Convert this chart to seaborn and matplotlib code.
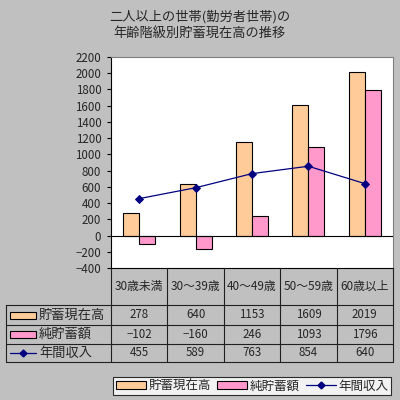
import matplotlib
matplotlib.use("Agg")
import matplotlib.pyplot as plt
import seaborn as sns
import pandas as pd
from matplotlib.patches import Rectangle, Patch
from matplotlib.lines import Line2D
from matplotlib.transforms import blended_transform_factory

# ----------------------- data -----------------------------------------------
categories = ["30歳未満", "30～39歳", "40～49歳", "50～59歳", "60歳以上"]
savings = [278, 640, 1153, 1609, 2019]        # 貯蓄現在高
net_savings = [-102, -160, 246, 1093, 1796]   # 純貯蓄額
income = [455, 589, 763, 854, 640]            # 年間収入
series_names = ["貯蓄現在高", "純貯蓄額", "年間収入"]
y_ticks = list(range(-400, 2201, 200))

ORANGE = "#FFCC99"
PINK = "#FF99CC"
NAVY = "#000080"
BG = "#C0C0C0"

sns.set_style("white")
plt.rcParams["font.family"] = ["Noto Sans CJK JP", "DejaVu Sans"]

W, H = 400, 400


def fx(px):
    return px / W


def fy(px):
    return 1 - px / H


fig = plt.figure(figsize=(4, 4), dpi=100, facecolor=BG)

# plot area in pixels: x 111..393, y 57..268
ax = fig.add_axes([fx(111), fy(268), fx(393) - fx(111), fy(57) - fy(268)])
ax.set_facecolor("white")

df = pd.DataFrame({
    "cat": categories * 2,
    "series": [series_names[0]] * 5 + [series_names[1]] * 5,
    "value": savings + net_savings,
})
sns.barplot(data=df, x="cat", y="value", hue="series", order=categories,
            palette=[ORANGE, PINK], saturation=1, width=0.57, edgecolor="black",
            linewidth=0.8, legend=False, ax=ax)
sns.pointplot(x=categories, y=income, order=categories, color=NAVY,
              markers="D", markersize=4, linewidth=0.9, ax=ax)

ax.axhline(0, color="black", lw=0.8, zorder=1)
ax.set_xlim(-0.5, len(categories) - 0.5)
ax.set_ylim(y_ticks[0], y_ticks[-1])
ax.set_yticks(y_ticks)
ax.set_yticklabels([str(t).replace("-", "\u2212") for t in y_ticks])
ax.set_xticks([])
ax.set_xlabel("")
ax.set_ylabel("")
ax.tick_params(axis="y", labelsize=8.3, length=3, width=0.8, color="black",
               pad=4, left=True)
for side in ["top", "right"]:
    ax.spines[side].set_color("#808080")
    ax.spines[side].set_linewidth(0.8)
ax.spines["left"].set_color("black")
ax.spines["left"].set_linewidth(0.8)
ax.spines["bottom"].set_color("black")
ax.spines["bottom"].set_linewidth(0.8)

# title
fig.text(0.5, fy(17), "二人以上の世帯(勤労者世帯)の", ha="center", va="center", fontsize=9.5)
fig.text(0.5, fy(34), "年齢階級別貯蓄現在高の推移", ha="center", va="center", fontsize=9.5)

# ----------------------- data table -----------------------------------------
trans = blended_transform_factory(ax.transData, fig.transFigure)
row_edges = [268, 305, 325, 344, 362]
left_px, col_left_px, right_px = 6, 111, 393
lc = "#202020"

n = len(categories)
col_w = (right_px - col_left_px) / n
for i in range(n + 1):
    x = col_left_px + i * col_w
    fig.add_artist(Line2D([fx(x), fx(x)], [fy(row_edges[0]), fy(row_edges[-1])],
                          color=lc, lw=0.8))
fig.add_artist(Line2D([fx(left_px), fx(left_px)], [fy(row_edges[1]), fy(row_edges[-1])],
                      color=lc, lw=0.8))
for y in row_edges[1:]:
    fig.add_artist(Line2D([fx(left_px), fx(right_px)], [fy(y), fy(y)], color=lc, lw=0.8))

for i, c in enumerate(categories):
    fig.text(i, fy((row_edges[0] + row_edges[1]) / 2), c, transform=trans,
             ha="center", va="center", fontsize=8.5)

rows = [savings, net_savings, income]
for r, (name, vals) in enumerate(zip(series_names, rows)):
    yc = fy((row_edges[r + 1] + row_edges[r + 2]) / 2)
    if r < 2:
        fig.add_artist(Rectangle((fx(10), yc - 3.5 / H), fx(26), 7 / H,
                                 facecolor=[ORANGE, PINK][r], edgecolor="black",
                                 lw=0.8, transform=fig.transFigure))
    else:
        fig.add_artist(Line2D([fx(10), fx(36)], [yc, yc], color=NAVY, lw=0.9,
                              transform=fig.transFigure))
        fig.add_artist(Line2D([fx(23)], [yc], color=NAVY, marker="D",
                              markersize=3.5, transform=fig.transFigure))
    fig.text(fx(39), yc, name, ha="left", va="center", fontsize=9.5)
    for i, v in enumerate(vals):
        fig.text(i, yc, str(v).replace("-", "\u2212"), transform=trans,
                 ha="center", va="center", fontsize=8.3)

# ----------------------- legend ---------------------------------------------
handles = [
    Patch(facecolor=ORANGE, edgecolor="black", lw=0.8),
    Patch(facecolor=PINK, edgecolor="black", lw=0.8),
    Line2D([], [], color=NAVY, lw=0.9, marker="D", markersize=3.5),
]
leg = fig.legend(handles, series_names, loc="center", bbox_to_anchor=(fx(252), fy(386)),
                 ncol=3, frameon=True, fancybox=False, fontsize=9,
                 handlelength=2.4, handleheight=0.55, handletextpad=0.2,
                 columnspacing=0.5, borderpad=0.2, borderaxespad=0)
leg.get_frame().set_edgecolor("black")
leg.get_frame().set_linewidth(0.8)
leg.get_frame().set_facecolor("white")

fig.savefig("out.png", dpi=100, facecolor=BG)
